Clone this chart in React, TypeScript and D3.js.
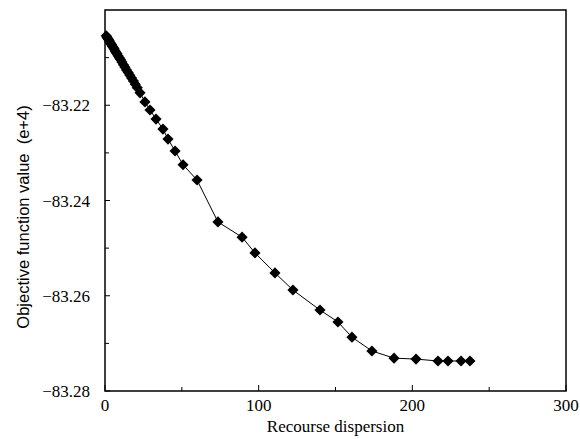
import React from 'react';
import * as d3 from 'd3';

const width = 580;
const height = 439;
const margin = { top: 10, right: 14, bottom: 48, left: 105 };

// recourse dispersion (x) and objective value in e+4 (y)
const dispersion = [
  0.8, 1.3, 1.8, 2.3, 2.8, 3.3, 3.8, 4.3, 4.8, 5.4, 6.0, 6.6, 7.2, 7.8, 8.5,
  9.3, 10.1, 11.0, 12.0, 13.0, 14.0, 15.1, 16.2, 17.3, 18.5, 19.7, 21.0,
  22.8, 26.0, 29.3, 33.2, 37.7, 41.0, 45.6, 50.8, 59.9, 73.5, 89.2, 97.6,
  110.6, 122.3, 139.9, 151.6, 160.7, 173.7, 188.1, 202.4, 216.7, 223.2,
  231.7, 237.5,
];
const objective = [
  -83.2054, -83.2057, -83.2060, -83.2062, -83.2065, -83.2068, -83.2071,
  -83.2073, -83.2076, -83.2079, -83.2082, -83.2086, -83.2089, -83.2092,
  -83.2096, -83.2100, -83.2104, -83.2109, -83.2115, -83.2120, -83.2126,
  -83.2131, -83.2137, -83.2143, -83.2149, -83.2156, -83.2163,
  -83.2174, -83.2193, -83.2210, -83.2229, -83.2250, -83.2271, -83.2296,
  -83.2325, -83.2357, -83.2445, -83.2477, -83.2510, -83.2552, -83.2588,
  -83.2630, -83.2655, -83.2687, -83.2716, -83.2731, -83.2733, -83.2737,
  -83.2737, -83.2737, -83.2737,
];

const xTicks = [0, 100, 200, 300];
const xMinor = [50, 150, 250];
const yTicks = [-83.28, -83.26, -83.24, -83.22];
const yMinor = [-83.27, -83.25, -83.23, -83.21];

const xLabel = 'Recourse dispersion';
const yLabel = 'Objective function value\u00a0\u00a0(e+4)';

const serif = '"Liberation Serif", "Times New Roman", serif';
const sans = '"Liberation Sans", Arial, sans-serif';

const App = () => {
  const x = d3.scaleLinear().domain([0, 300]).range([margin.left, width - margin.right]);
  const y = d3.scaleLinear().domain([-83.28, -83.2]).range([height - margin.bottom, margin.top]);

  const points = dispersion.map((d, i) => [d, objective[i]] as [number, number]);
  const line = d3.line<[number, number]>()
    .x(d => x(d[0]))
    .y(d => y(d[1]));
  // rotated square -> diamond
  const diamond = d3.symbol().type(d3.symbolSquare).size(62)();

  const x0 = x(0);
  const x1 = x(300);
  const y0 = y(-83.28);
  const y1 = y(-83.2);

  return (
    <svg width={width} height={height} style={{ position: 'absolute', left: 0, top: 0, background: '#fff' }}>
      <path d={line(points) || ''} fill="none" stroke="#000" strokeWidth={1} />
      {points.map((p, i) => (
        <path
          key={i}
          d={diamond || ''}
          transform={`translate(${x(p[0])},${y(p[1])}) rotate(45)`}
          fill="#000"
        />
      ))}

      {/* frame */}
      <rect x={x0} y={y1} width={x1 - x0} height={y0 - y1} fill="none" stroke="#000" strokeWidth={1.5} />

      {/* x ticks */}
      {xTicks.map(t => (
        <g key={`x${t}`}>
          <line x1={x(t)} x2={x(t)} y1={y0} y2={y0 - 6} stroke="#000" />
          <text x={x(t)} y={y0 + 20} textAnchor="middle" fontFamily={serif} fontSize={17}>{t}</text>
        </g>
      ))}
      {xMinor.map(t => (
        <line key={`xm${t}`} x1={x(t)} x2={x(t)} y1={y0} y2={y0 - 4} stroke="#000" />
      ))}

      {/* y ticks */}
      {yTicks.map(t => (
        <g key={`y${t}`}>
          <line x1={x0} x2={x0 + 5} y1={y(t)} y2={y(t)} stroke="#000" />
          <text x={x0 - 15} y={y(t) + 6} textAnchor="end" fontFamily={serif} fontSize={17}>
            {d3.format('.2f')(t).replace('-', '\u2212')}
          </text>
        </g>
      ))}
      {yMinor.map(t => (
        <line key={`ym${t}`} x1={x0} x2={x0 + 4} y1={y(t)} y2={y(t)} stroke="#000" />
      ))}

      <text x={(x0 + x1) / 2} y={432} textAnchor="middle" fontFamily={serif} fontSize={17}>
        {xLabel}
      </text>
      <text
        transform="translate(29,217) rotate(-90)"
        textAnchor="middle"
        fontFamily={sans}
        fontSize={16.5}
      >
        {yLabel}
      </text>
    </svg>
  );
};

export default App;
